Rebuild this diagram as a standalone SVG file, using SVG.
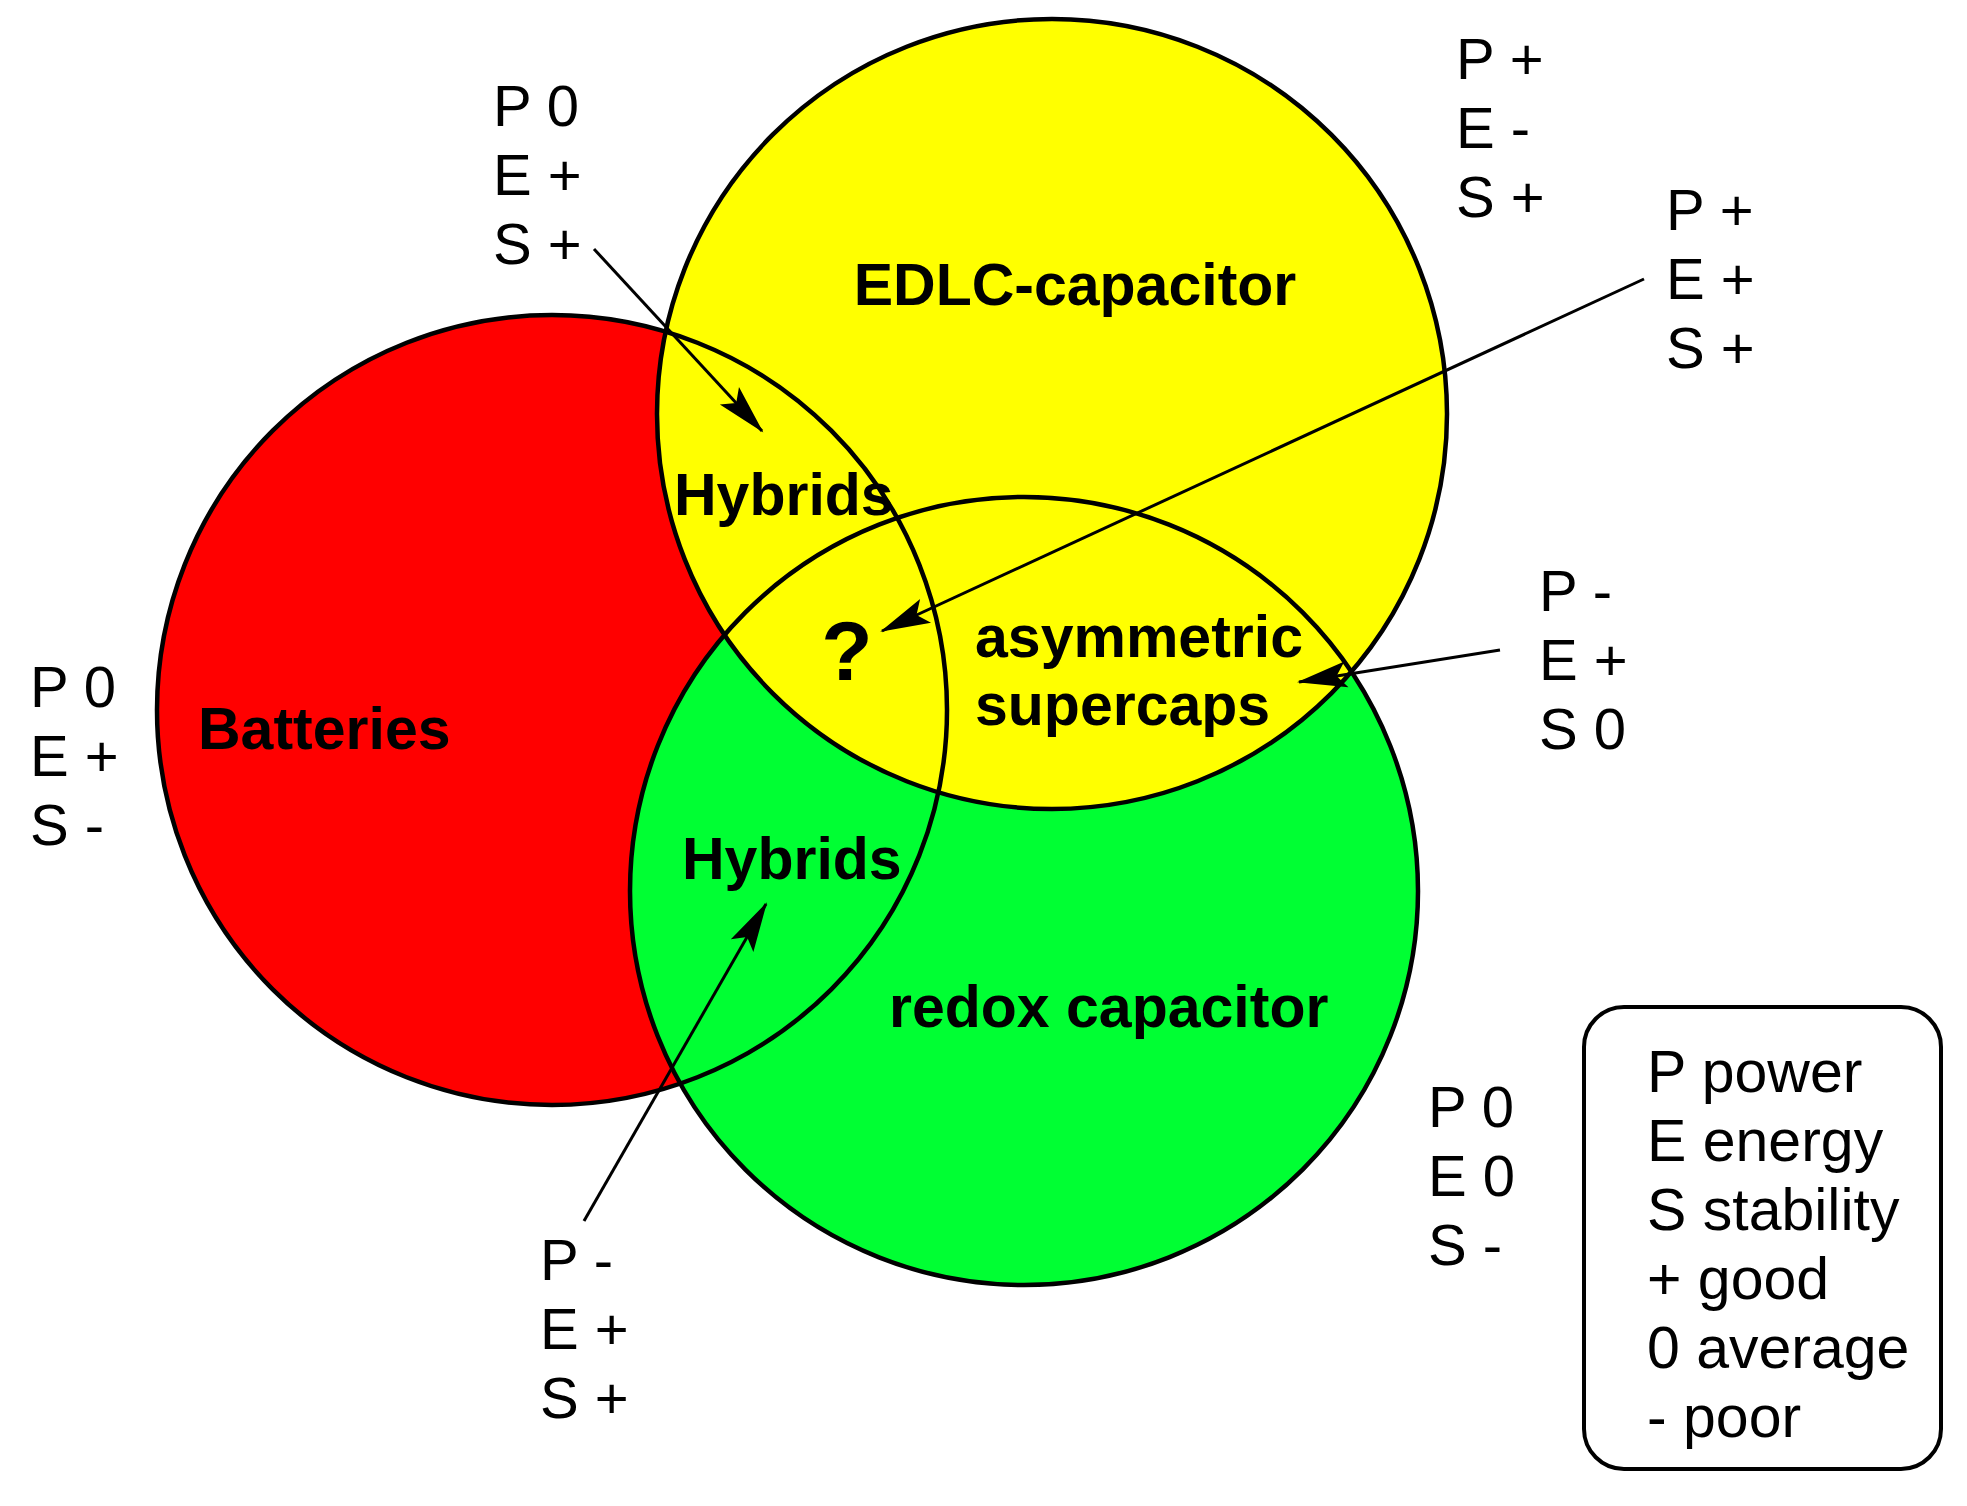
<svg xmlns="http://www.w3.org/2000/svg" width="1967" height="1506" viewBox="0 0 1967 1506">
<defs>
<style>
.c{stroke:#000;stroke-width:4.5;fill:none}
.b{font-family:"Liberation Sans",Arial,sans-serif;font-weight:bold;font-size:59px;fill:#000}
.q{font-size:84px}
.n{font-family:"Liberation Sans",Arial,sans-serif;font-size:58px;fill:#000}
.l{font-size:59px}
.a{stroke:#000;stroke-width:3;fill:none}
</style>
<marker id="ah" viewBox="-50 -14 54 28" refX="0" refY="0" markerWidth="54" markerHeight="28" markerUnits="userSpaceOnUse" orient="auto" overflow="visible">
<path d="M2,0 L-48,-13 L-38,0 L-48,13 Z" fill="#000"/>
</marker>
</defs>
<rect width="1967" height="1506" fill="#fff"/>
<g id="batteries"><circle cx="552" cy="710" r="395" fill="#ff0000"/></g>
<g id="redox"><circle cx="1024" cy="891" r="394" fill="#00ff33"/></g>
<g id="edlc"><circle cx="1052" cy="414" r="395" fill="#ffff00"/></g>
<g id="outlines">
<circle class="c" cx="552" cy="710" r="395"/>
<circle class="c" cx="1024" cy="891" r="394"/>
<circle class="c" cx="1052" cy="414" r="395"/>
</g>
<g id="labels">
<text class="b" x="1075" y="305" text-anchor="middle">EDLC-capacitor</text>
<text class="b" x="674" y="515">Hybrids</text>
<text class="b q" x="847" y="680" text-anchor="middle">?</text>
<text class="b" x="975" y="657">asymmetric</text>
<text class="b" x="975" y="725">supercaps</text>
<text class="b" x="198" y="749">Batteries</text>
<text class="b" x="682" y="879">Hybrids</text>
<text class="b" x="889" y="1027">redox capacitor</text>
</g>
<g id="ratings">
<text class="n" x="493" y="126">P 0</text><text class="n" x="493" y="195">E +</text><text class="n" x="493" y="264">S +</text>
<text class="n" x="1456" y="79">P +</text><text class="n" x="1456" y="148">E -</text><text class="n" x="1456" y="217">S +</text>
<text class="n" x="1666" y="230">P +</text><text class="n" x="1666" y="299">E +</text><text class="n" x="1666" y="368">S +</text>
<text class="n" x="1539" y="611">P -</text><text class="n" x="1539" y="680">E +</text><text class="n" x="1539" y="749">S 0</text>
<text class="n" x="30" y="707">P 0</text><text class="n" x="30" y="776">E +</text><text class="n" x="30" y="845">S -</text>
<text class="n" x="1428" y="1127">P 0</text><text class="n" x="1428" y="1196">E 0</text><text class="n" x="1428" y="1265">S -</text>
<text class="n" x="540" y="1280">P -</text><text class="n" x="540" y="1349">E +</text><text class="n" x="540" y="1418">S +</text>
</g>
<g id="legend">
<rect x="1584" y="1007" width="357" height="462" rx="40" fill="#fff" stroke="#000" stroke-width="4"/>
<text class="n l" x="1647" y="1092">P power</text>
<text class="n l" x="1647" y="1161">E energy</text>
<text class="n l" x="1647" y="1230">S stability</text>
<text class="n l" x="1647" y="1299">+ good</text>
<text class="n l" x="1647" y="1368">0 average</text>
<text class="n l" x="1647" y="1437">- poor</text>
</g>
<g id="connectors">
<line class="a" x1="594" y1="249" x2="762" y2="431" marker-end="url(#ah)"/>
<line class="a" x1="1644" y1="279" x2="882" y2="631" marker-end="url(#ah)"/>
<line class="a" x1="1500" y1="650" x2="1299" y2="682" marker-end="url(#ah)"/>
<line class="a" x1="584" y1="1221" x2="766" y2="904" marker-end="url(#ah)"/>
</g>
</svg>
